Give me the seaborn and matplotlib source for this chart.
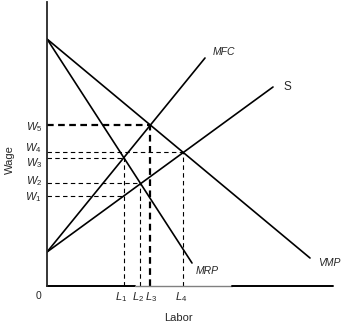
import matplotlib
matplotlib.use("Agg")
import matplotlib.pyplot as plt
import seaborn as sns
import pandas as pd

# Curve endpoints (labor, wage) in chart units
mrp_x = [0, 145]; mrp_y = [247, 23]
vmp_x = [0, 263]; vmp_y = [247, 28]
mfc_x = [0, 158]; mfc_y = [34, 228]
s_x = [0, 226];   s_y = [34, 199]

# Wage levels W1..W5 and labor levels L1..L4
wages = [90, 103, 128, 134, 161]
wage_labels = ["$W_1$", "$W_2$", "$W_3$", "$W_4$", "$W_5$"]
labor = [77, 93, 103, 136]
labor_labels = ["$L_1$", "$L_2$", "$L_3$", "$L_4$"]
# which labor level each wage dashed line reaches
wage_to_labor = [77, 93, 77, 136, 103]
# vertical dashed line tops for each labor level
labor_tops = [128, 103, 161, 134]

sns.set_style("white")
plt.rcParams["font.family"] = ["Liberation Sans", "DejaVu Sans"]
plt.rcParams["mathtext.fontset"] = "custom"
plt.rcParams["mathtext.it"] = "Liberation Sans:italic"
plt.rcParams["mathtext.rm"] = "Liberation Sans"

fig = plt.figure(figsize=(3.47, 3.24), dpi=100)
ax = fig.add_axes([47/347, 38/324, 286/347, 284/324])
ax.set_xlim(0, 286)
ax.set_ylim(0, 284)

df = pd.concat([
    pd.DataFrame({"x": mrp_x, "y": mrp_y, "c": "MRP"}),
    pd.DataFrame({"x": vmp_x, "y": vmp_y, "c": "VMP"}),
    pd.DataFrame({"x": mfc_x, "y": mfc_y, "c": "MFC"}),
    pd.DataFrame({"x": s_x, "y": s_y, "c": "S"}),
])
sns.lineplot(data=df, x="x", y="y", units="c", estimator=None, color="black",
             lw=1.2, ax=ax, legend=False, sort=False)

# dashed guides
for i, (w, lx) in enumerate(zip(wages, wage_to_labor)):
    thick = (i == 4)
    ax.plot([0, lx], [w, w], color="black", lw=1.6 if thick else 0.8,
            dashes=(3, 2) if thick else (4, 3))
for i, (lx, top) in enumerate(zip(labor, labor_tops)):
    thick = (i == 2)
    ax.plot([lx, lx], [0, top], color="black", lw=1.6 if thick else 0.8,
            dashes=(3, 2) if thick else (4, 3))

# axes
for sp in ["top", "right", "bottom"]:
    ax.spines[sp].set_visible(False)
ax.spines["left"].set_linewidth(1.3)
ax.plot([0, 88], [0, 0], color="black", lw=1.4, clip_on=False)
ax.plot([88, 185], [0, 0], color="#808080", lw=1.0, clip_on=False)
ax.plot([185, 286], [0, 0], color="black", lw=1.4, clip_on=False)
ax.set_xticks([]); ax.set_yticks([])
ax.set_xlabel(""); ax.set_ylabel("")

# curve labels
lab_kw = dict(fontsize=7.5, style="italic", va="center", ha="left")
ax.text(166, 234, "MFC", **lab_kw)
ax.text(236, 199, "S", fontsize=8.5, va="center", ha="left")
ax.text(149, 15, "MRP", **lab_kw)
ax.text(271, 23, "VMP", **lab_kw)

# wage labels
w_off = [-1, 2, -5, 4, -2]
for w, lbl, o in zip(wages, wage_labels, w_off):
    ax.text(-5, w + o, lbl, fontsize=8, ha="right", va="center")
l_off = [-3, -2, 1, -2]
for lx, lbl, o in zip(labor, labor_labels, l_off):
    ax.text(lx + o, -11, lbl, fontsize=8, ha="center", va="center")
ax.text(-8, -10, "0", fontsize=7.5, ha="center", va="center")
fig.text(178/347, 1 - 318/324, "Labor", fontsize=8, ha="center", va="center")
fig.text(10/347, 1 - 160/324, "Wage", fontsize=8, ha="center", va="center", rotation=90)

fig.savefig("out.png", dpi=100)
